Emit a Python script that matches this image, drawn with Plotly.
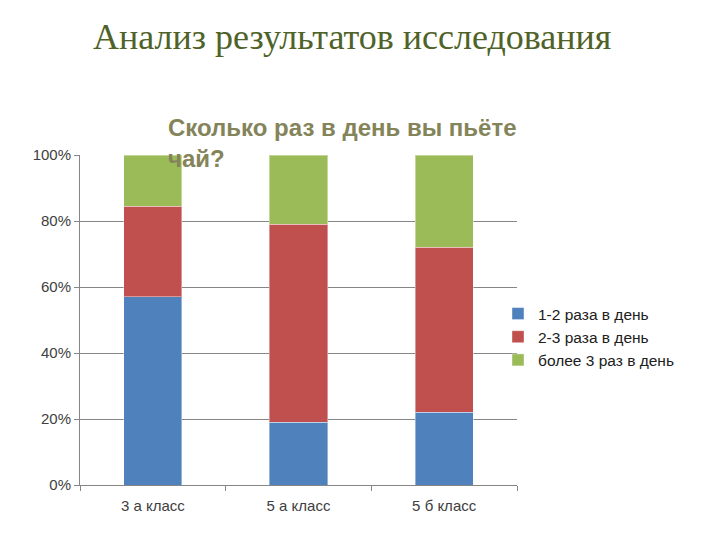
import plotly.graph_objects as go

categories = ["3 а класс", "5 а класс", "5 б класс"]
series_names = ["1-2 раза в день", "2-3 раза в день", "более 3 раз в день"]
s1 = [57, 19, 22]
s2 = [27.5, 60, 50]
s3 = [15.5, 21, 28]
colors = ["#4F81BD", "#C0504D", "#9BBB59"]
y_ticks = [0, 20, 40, 60, 80, 100]
y_tick_labels = ["0%", "20%", "40%", "60%", "80%", "100%"]

L, T, W, H = 72, 147, 437, 330

fig = go.Figure()
for name, vals, c in zip(series_names, [s1, s2, s3], colors):
    fig.add_trace(go.Bar(x=categories, y=vals, name=name, marker_color=c,
                         marker_line_color="rgba(255,255,255,0.4)", marker_line_width=1,
                         width=0.4))

fig.update_layout(
    width=720, height=540,
    barmode="stack",
    plot_bgcolor="white", paper_bgcolor="white",
    margin=dict(l=L, r=720 - L - W, t=T, b=540 - T - H),
    font=dict(family="Liberation Sans", size=15, color="#404040"),
    legend=dict(x=(490 - L) / W, y=(T + H - 289) / H, xanchor="left", yanchor="top",
                traceorder="normal", font=dict(size=15.5, color="#202020"),
                itemwidth=30, tracegroupgap=0, bgcolor="rgba(0,0,0,0)"),
    showlegend=True,
    xaxis=dict(showline=True, linecolor="#868686", linewidth=1,
               ticks="outside", tickson="boundaries", ticklen=5, tickcolor="#868686",
               showgrid=False, ticklabelstandoff=7),
    yaxis=dict(range=[0, 100], tickvals=y_ticks, ticktext=y_tick_labels,
               showgrid=True, gridcolor="#868686", gridwidth=1,
               showline=True, linecolor="#868686", linewidth=1,
               ticks="outside", ticklen=5, tickcolor="#868686", zeroline=False),
    annotations=[
        dict(text="Анализ результатов исследования", xref="paper", yref="paper",
             x=(344 - L) / W, y=1 + (T - 29) / H, xanchor="center", yanchor="middle",
             showarrow=False,
             font=dict(family="Liberation Serif", size=36, color="#4F6228")),
        dict(text="Сколько раз в день вы пьёте<br>чай?", xref="paper", yref="paper",
             x=(158 - L) / W, y=1 + (T - 104) / H, xanchor="left", yanchor="top",
             align="left", showarrow=False,
             font=dict(family="Liberation Sans", size=24, color="#84845A", weight="bold")),
    ],
)

fig.write_html("out.html")
